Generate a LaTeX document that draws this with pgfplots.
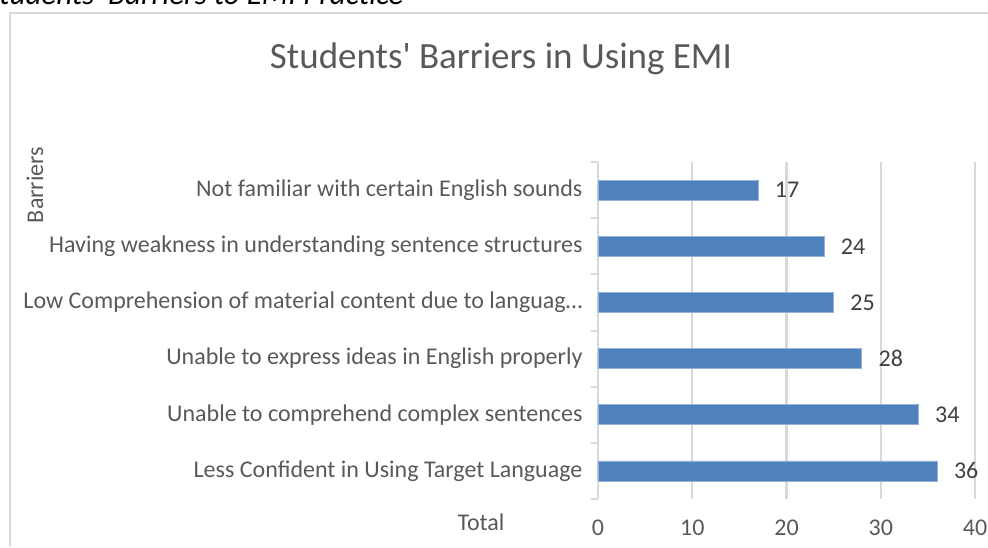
\documentclass[border=0pt]{standalone}
\usepackage{pgfplots}
\pgfplotsset{compat=1.18}
\usepackage{fontspec}
\setmainfont{Carlito}
\definecolor{barblue}{HTML}{4F81BD}
\definecolor{txtgray}{HTML}{595959}
\definecolor{gridgray}{HTML}{D9D9D9}
\begin{document}
\begin{tikzpicture}
\useasboundingbox (0,0) rectangle (988pt,547pt);
\clip (0,0) rectangle (988pt,547pt);
% caption cut off at the top of the picture
\node[anchor=base west, font=\fontsize{31}{36}\selectfont\itshape, inner sep=0pt] at (-15pt,542pt) {Students\textquotesingle{} Barriers to EMI Practice};
% chart frame
\draw[gridgray, line width=2pt] (10pt,0pt) -- (10pt,534pt) -- (990pt,534pt);
\node[font=\fontsize{37}{42}\selectfont, text=txtgray] at (501pt,488pt) {Students\textquotesingle{} Barriers in Using EMI};

\begin{axis}[
    at={(598pt,48pt)}, anchor=south west,
    scale only axis,
    width=377pt, height=337pt,
    xbar, bar width=20pt,
    xmin=0, xmax=40,
    ymin=-0.5, ymax=5.5,
    xtick={0,10,20,30,40},
    ytick={0,1,2,3,4,5},
    yticklabels={Less Confident in Using Target Language,
                 Unable to comprehend complex sentences,
                 Unable to express ideas in English properly,
                 Low Comprehension of material content due to languag…,
                 Having weakness in understanding sentence structures,
                 Not familiar with certain English sounds},
    minor ytick={-0.5,0.5,...,5.5},
    major tick length=0pt,
    minor tick length=7pt,
    tick align=outside,
    tick style={gridgray, line width=2pt},
    axis y line*=left,
    axis x line*=bottom,
    ytick pos=left,
    x axis line style={draw=none},
    y axis line style={gridgray, line width=2.4pt, -},
    xmajorgrids,
    grid style={gridgray, line width=2.4pt},
    ticklabel style={font=\fontsize{24}{28}\selectfont, text=txtgray},
    /pgf/number format/assume math mode=true,
    xticklabel style={yshift=-17pt},
    yticklabel style={xshift=-12pt},
    nodes near coords,
    every node near coord/.append style={font=\fontsize{24}{28}\selectfont, text=black!75, xshift=13pt},
]
\addplot[fill=barblue, draw=barblue!60!white, line width=0.8pt] coordinates {
    (36,0) (34,1) (28,2) (25,3) (24,4) (17,5)
};
\end{axis}
\node[font=\fontsize{24}{28}\selectfont, text=txtgray] at (481pt,25pt) {Total};
\node[font=\fontsize{24}{28}\selectfont, text=txtgray, rotate=90] at (35pt,362pt) {Barriers};
\end{tikzpicture}
\end{document}
